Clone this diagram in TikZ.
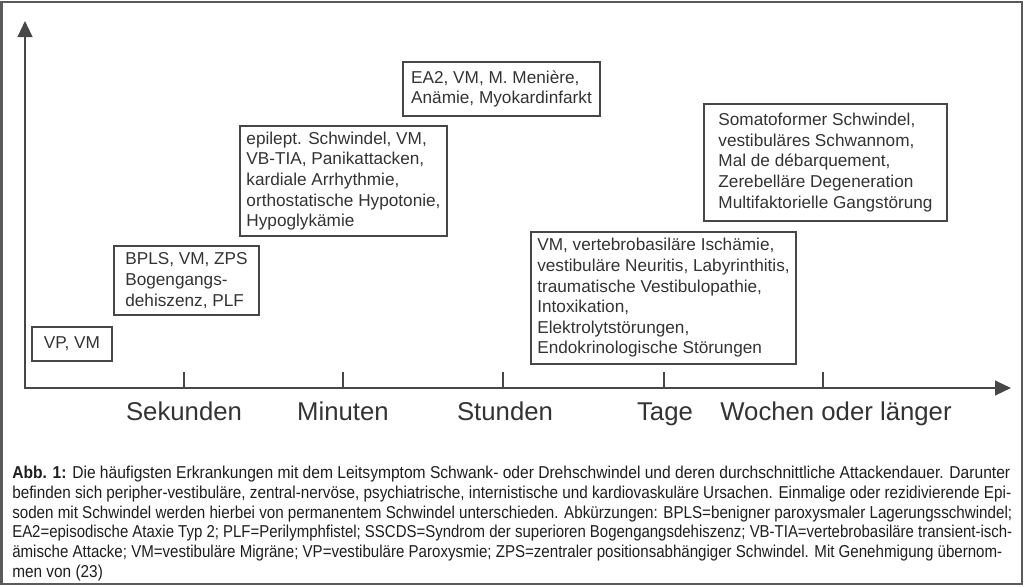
\documentclass[tikz,border=0pt]{standalone}
\usepackage{fontspec}
\usepackage{graphicx}
\setmainfont{Liberation Sans}
\usetikzlibrary{arrows.meta}
\definecolor{ink}{HTML}{333333}
\definecolor{capink}{HTML}{1E1E1E}
\definecolor{linec}{HTML}{474747}
\definecolor{framec}{HTML}{5A5A5A}
\newcommand\capfit[2]{\resizebox{#1}{\height}{#2}}
\tikzset{
  px/.style={x=0.75pt,y=-0.75pt},
  frameline/.style={draw=framec,line width=1.5pt},
  axisline/.style={draw=linec,line width=1.6pt,{Triangle[length=12pt,width=11pt]}-{Triangle[length=12pt,width=11pt]}},
  tickline/.style={draw=linec,line width=1.6pt},
  diagbox/.style={draw=linec,line width=1.5pt,text=ink,align=left,inner sep=0pt,
    font=\fontsize{12.9pt}{15.45pt}\selectfont},
  axlabel/.style={text=ink,inner sep=0pt,anchor=base,font=\fontsize{19.3pt}{23pt}\selectfont},
  captext/.style={text=capink,inner sep=0pt,anchor=base west,font=\fontsize{12.9pt}{14pt}\selectfont}
}
\begin{document}
\begin{tikzpicture}[px]
\useasboundingbox (0,0) rectangle (1024,586);
\draw[frameline] (1.5,1.5) rectangle (1021.5,584);
% axes
\coordinate (O) at (25,388);
\coordinate (ytip) at (25,21);
\coordinate (xtip) at (1011,388);
\draw[axisline] (ytip) -- (O) -- (xtip);
% ticks and labels
\foreach \n/\x/\lx/\t in {t1/184/184/Sekunden, t2/343/343/Minuten, t3/503/505/Stunden, t4/664/665/Tage, t5/823/836/Wochen oder länger}{
  \coordinate (\n) at (\x,388);
  \draw[tickline] (\n) -- ++(0,-16);
  \node[axlabel] (l\n) at (\lx,420) {\t};
}
% boxes
\node[diagbox,minimum width=60pt,minimum height=25.5pt] (b1) at (72,344) {VP, VM};
\node[diagbox,minimum width=108.75pt,minimum height=51.75pt] (b2) at (186.5,280.5)
  {BPLS, VM, ZPS\\Bogengangs-\\dehiszenz, PLF};
\node[diagbox,minimum width=155.25pt,minimum height=82.5pt] (b3) at (343.5,181)
  {epilept. Schwindel, VM,\\VB-TIA, Panikattacken,\\kardiale Arrhythmie,\\orthostatische Hypotonie,\\Hypoglykämie};
\node[diagbox,minimum width=147.75pt,minimum height=40.5pt] (b4) at (501.5,89)
  {EA2, VM, M. Menière,\\Anämie, Myokardinfarkt};
\node[diagbox,minimum width=198.75pt,minimum height=99pt] (b5) at (663.5,298)
  {VM, vertebrobasiläre Ischämie,\\vestibuläre Neuritis, Labyrinthitis,\\traumatische Vestibulopathie,\\Intoxikation,\\Elektrolytstörungen,\\Endokrinologische Störungen};
\node[diagbox,minimum width=182.25pt,minimum height=87.75pt] (b6) at (825.5,162.5)
  {Somatoformer Schwindel,\\vestibuläres Schwannom,\\Mal de débarquement,\\Zerebelläre Degeneration\\Multifaktorielle Gangstörung};
% caption
\node[captext] (c1) at (12,478.5) {\capfit{748.5pt}{\textbf{Abb. 1:} Die häufigsten Erkrankungen mit dem Leitsymptom Schwank- oder Drehschwindel und deren durchschnittliche Attackendauer. Darunter}};
\node[captext] (c2) at (12,498.3) {\capfit{749.25pt}{befinden sich peripher-vestibuläre, zentral-nervöse, psychiatrische, internistische und kardiovaskuläre Ursachen. Einmalige oder rezidivierende Epi-}};
\node[captext] (c3) at (12,518.1) {\capfit{750pt}{soden mit Schwindel werden hierbei von permanentem Schwindel unterschieden. Abkürzungen: BPLS=benigner paroxysmaler Lagerungsschwindel;}};
\node[captext] (c4) at (12,537.9) {\capfit{750pt}{EA2=episodische Ataxie Typ 2; PLF=Perilymphfistel; SSCDS=Syndrom der superioren Bogengangsdehiszenz; VB-TIA=vertebrobasiläre transient-isch-}};
\node[captext] (c5) at (12,557.7) {\capfit{742.5pt}{ämische Attacke; VM=vestibuläre Migräne; VP=vestibuläre Paroxysmie; ZPS=zentraler positionsabhängiger Schwindel. Mit Genehmigung übernom-}};
\node[captext] (c6) at (12,577.5) {\capfit{68pt}{men von (23)}};
\end{tikzpicture}
\end{document}
